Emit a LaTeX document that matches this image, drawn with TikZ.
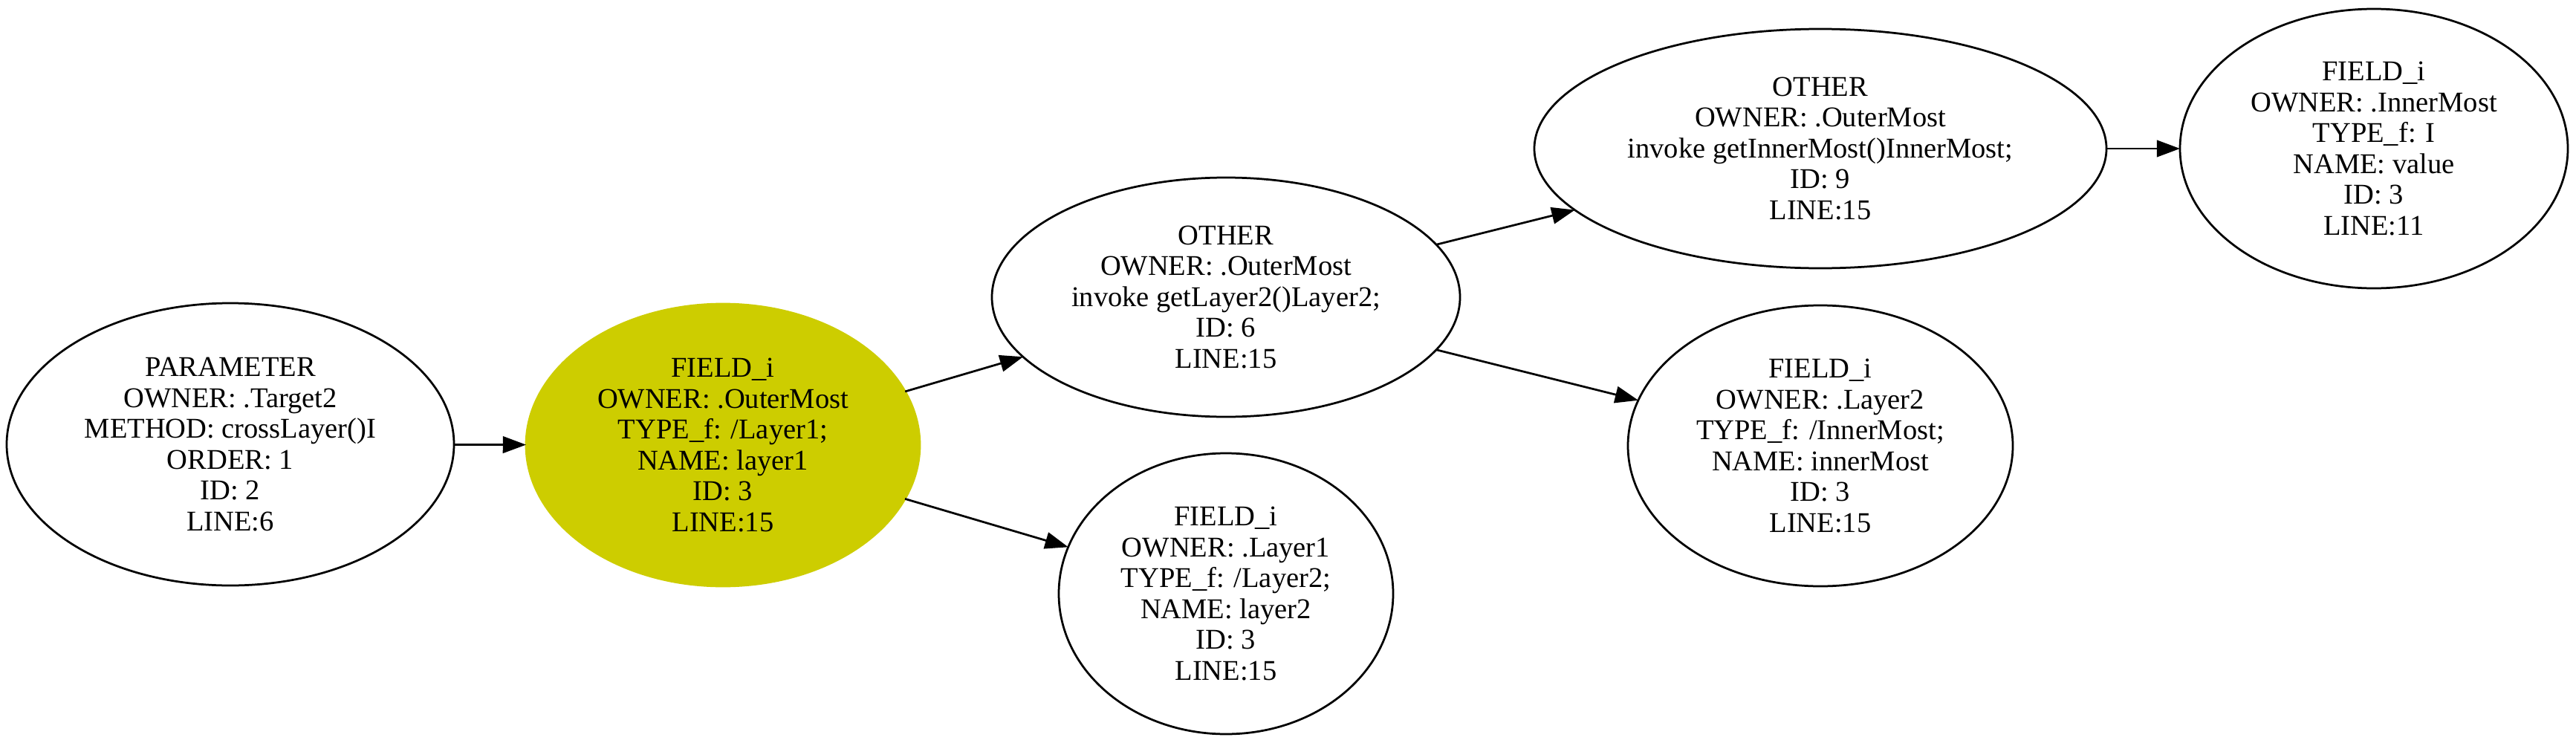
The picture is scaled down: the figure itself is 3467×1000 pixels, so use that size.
\documentclass[tikz,border=0pt]{standalone}
\usepackage{fontspec}
\setmainfont{Liberation Serif}
\usetikzlibrary{shapes.geometric,arrows.meta}
\definecolor{hl}{RGB}{205,205,0}
\begin{document}
\begin{tikzpicture}[x=0.4pt,y=-0.4pt,
  gnode/.style={draw,ellipse,line width=1.1pt,inner sep=-6pt,outer sep=0pt,align=center,font=\fontsize{15.4}{16.6}\selectfont},
  edge/.style={-{Triangle[length=12.5pt,width=9pt]},line width=1.1pt}]
\useasboundingbox (0,0) rectangle (3467,1000);
\node[gnode,minimum width=240.8pt,minimum height=152pt] (n1) at (310,598)
  {PARAMETER\\OWNER: .Target2\\METHOD: crossLayer()I\\ORDER: 1\\ID: 2\\LINE:6};
\node[gnode,fill=hl,draw=hl,minimum width=212pt,minimum height=152pt] (n2) at (973,599)
  {FIELD\_i\\OWNER: .OuterMost\\TYPE\_f: /Layer1;\\NAME: layer1\\ID: 3\\LINE:15};
\node[gnode,minimum width=252pt,minimum height=128.8pt] (n3) at (1650,400)
  {OTHER\\OWNER: .OuterMost\\invoke getLayer2()Layer2;\\ID: 6\\LINE:15};
\node[gnode,minimum width=180pt,minimum height=151.2pt] (n4) at (1650,799)
  {FIELD\_i\\OWNER: .Layer1\\TYPE\_f: /Layer2;\\NAME: layer2\\ID: 3\\LINE:15};
\node[gnode,minimum width=308pt,minimum height=128.8pt] (n5) at (2450,200)
  {OTHER\\OWNER: .OuterMost\\invoke getInnerMost()InnerMost;\\ID: 9\\LINE:15};
\node[gnode,minimum width=207.2pt,minimum height=151.2pt] (n6) at (2450,600)
  {FIELD\_i\\OWNER: .Layer2\\TYPE\_f: /InnerMost;\\NAME: innerMost\\ID: 3\\LINE:15};
\node[gnode,minimum width=208.8pt,minimum height=150.4pt] (n7) at (3195,200)
  {FIELD\_i\\OWNER: .InnerMost\\TYPE\_f: I\\NAME: value\\ID: 3\\LINE:11};
\draw[edge] (n1) -- (n2);
\draw[edge] (n2) -- (n3);
\draw[edge] (n2) -- (n4);
\draw[edge] (n3) -- (n5);
\draw[edge] (n3) -- (n6);
\draw[edge] (n5) -- (n7);
\end{tikzpicture}
\end{document}
